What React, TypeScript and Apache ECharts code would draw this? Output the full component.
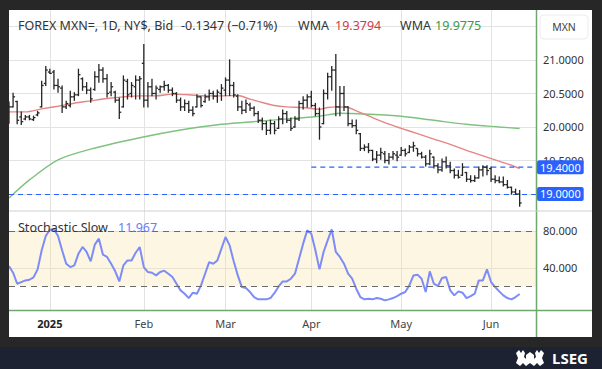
import React, { useEffect, useRef } from 'react';
import * as echarts from 'echarts';

// ---------- categories (weekday calendar) ----------
const START_Y = 2024, START_M = 11, START_D = 18;
const N_CATS = 130;
const categories: string[] = [];
{
  const d = new Date(Date.UTC(START_Y, START_M, START_D));
  while (categories.length < N_CATS) {
    const wd = d.getUTCDay();
    if (wd !== 0 && wd !== 6) categories.push(d.toISOString().slice(0, 10));
    d.setUTCDate(d.getUTCDate() + 1);
  }
}
const monthNames = ['Jan', 'Feb', 'Mar', 'Apr', 'May', 'Jun', 'Jul', 'Aug', 'Sep', 'Oct', 'Nov', 'Dec'];

// ---------- price data (OHLC) ----------
const openP = [
  20.20, 20.30, 20.38, 20.15, 20.12, 20.15, 20.11, 20.18, 20.30, 20.65,
  20.82, 20.82, 20.62, 20.58, 20.30, 20.32, 20.45, 20.48, 20.72, 20.60,
  20.55, 20.56, 20.75, 20.85, 20.72, 20.52, 20.52, 20.40, 20.30, 20.68,
  20.50, 20.60, 20.70, 20.95, 20.40, 20.60, 20.50, 20.56, 20.60, 20.62,
  20.55, 20.50, 20.40, 20.30, 20.35, 20.25, 20.30, 20.45, 20.38, 20.45,
  20.50, 20.46, 20.50, 20.55, 20.70, 20.62, 20.46, 20.30, 20.25, 20.33,
  20.28, 20.20, 20.10, 20.05, 19.95, 20.05, 19.98, 20.12, 20.20, 20.10,
  20.00, 20.12, 20.35, 20.40, 20.45, 20.32, 20.20, 20.05, 20.50, 20.75,
  20.85, 20.30, 20.50, 20.30, 20.05, 20.02, 19.90, 19.68, 19.70, 19.65,
  19.52, 19.58, 19.60, 19.50, 19.55, 19.58, 19.58, 19.65, 19.62, 19.70,
  19.68, 19.60, 19.55, 19.45, 19.55, 19.42, 19.36, 19.48, 19.42, 19.35,
  19.28, 19.28, 19.32, 19.22, 19.20, 19.24, 19.36, 19.40, 19.38, 19.22,
  19.20, 19.18, 19.14, 19.10, 19.03, 19.00,
];
const highP = [
  20.38, 20.51, 20.39, 20.23, 20.18, 20.18, 20.17, 20.24, 20.69, 20.91,
  20.87, 20.85, 20.72, 20.62, 20.39, 20.54, 20.52, 20.87, 20.74, 20.67,
  20.59, 20.83, 20.94, 20.89, 20.79, 20.67, 20.54, 20.44, 20.77, 20.72,
  20.67, 20.77, 20.76, 21.24, 20.67, 20.72, 20.62, 20.62, 20.69, 20.64,
  20.59, 20.52, 20.44, 20.41, 20.39, 20.31, 20.49, 20.46, 20.49, 20.56,
  20.54, 20.56, 20.64, 20.74, 21.01, 20.67, 20.49, 20.39, 20.41, 20.36,
  20.31, 20.24, 20.14, 20.09, 20.11, 20.09, 20.16, 20.26, 20.24, 20.14,
  20.16, 20.39, 20.46, 20.49, 20.54, 20.36, 20.29, 20.56, 20.81, 20.91,
  21.09, 20.61, 20.61, 20.31, 20.11, 20.11, 19.91, 19.74, 19.76, 19.66,
  19.64, 19.69, 19.64, 19.61, 19.64, 19.64, 19.70, 19.68, 19.73, 19.78,
  19.68, 19.63, 19.58, 19.66, 19.56, 19.46, 19.53, 19.56, 19.48, 19.38,
  19.36, 19.46, 19.33, 19.28, 19.28, 19.41, 19.43, 19.43, 19.41, 19.28,
  19.26, 19.26, 19.21, 19.11, 19.08, 19.06,
];
const lowP = [
  20.05, 20.29, 20.04, 20.03, 20.10, 20.10, 20.09, 20.16, 20.29, 20.61,
  20.79, 20.56, 20.51, 20.21, 20.27, 20.29, 20.39, 20.46, 20.54, 20.49,
  20.36, 20.54, 20.66, 20.66, 20.44, 20.46, 20.36, 20.12, 20.29, 20.41,
  20.44, 20.41, 20.41, 20.29, 20.29, 20.46, 20.41, 20.51, 20.54, 20.51,
  20.46, 20.36, 20.24, 20.24, 20.21, 20.16, 20.29, 20.29, 20.36, 20.39,
  20.41, 20.36, 20.39, 20.46, 20.46, 20.44, 20.24, 20.19, 20.21, 20.24,
  20.16, 20.06, 19.95, 19.88, 19.89, 19.89, 19.97, 20.04, 20.06, 19.94,
  19.99, 20.09, 20.26, 20.29, 20.29, 20.16, 19.81, 20.04, 20.41, 20.54,
  20.16, 20.16, 20.24, 20.01, 19.99, 19.89, 19.64, 19.64, 19.61, 19.49,
  19.46, 19.51, 19.46, 19.44, 19.51, 19.49, 19.57, 19.56, 19.61, 19.63,
  19.56, 19.53, 19.41, 19.43, 19.38, 19.31, 19.33, 19.38, 19.31, 19.23,
  19.23, 19.27, 19.18, 19.17, 19.18, 19.23, 19.26, 19.28, 19.18, 19.16,
  19.16, 19.11, 19.08, 18.99, 18.99, 18.81,
];
const closeP = [
  20.30, 20.45, 20.10, 20.08, 20.15, 20.12, 20.14, 20.21, 20.62, 20.85,
  20.80, 20.62, 20.60, 20.30, 20.35, 20.45, 20.48, 20.78, 20.60, 20.55,
  20.42, 20.75, 20.85, 20.72, 20.50, 20.60, 20.40, 20.22, 20.70, 20.48,
  20.62, 20.70, 20.72, 20.40, 20.60, 20.50, 20.58, 20.60, 20.62, 20.55,
  20.50, 20.40, 20.30, 20.35, 20.25, 20.20, 20.45, 20.32, 20.45, 20.50,
  20.46, 20.52, 20.58, 20.70, 20.62, 20.48, 20.30, 20.25, 20.35, 20.28,
  20.20, 20.10, 20.05, 19.95, 20.05, 19.95, 20.12, 20.20, 20.10, 19.98,
  20.12, 20.35, 20.40, 20.45, 20.32, 20.20, 20.00, 20.50, 20.75, 20.85,
  20.30, 20.50, 20.30, 20.05, 20.02, 19.95, 19.68, 19.70, 19.65, 19.52,
  19.58, 19.62, 19.50, 19.55, 19.60, 19.55, 19.65, 19.60, 19.70, 19.72,
  19.60, 19.55, 19.45, 19.60, 19.42, 19.36, 19.48, 19.42, 19.35, 19.28,
  19.25, 19.40, 19.22, 19.20, 19.24, 19.36, 19.40, 19.35, 19.22, 19.20,
  19.18, 19.14, 19.10, 19.03, 19.00, 18.8653,
];

// ---------- moving averages ----------
const wmaRedIdx = [0, 4, 8, 12, 16, 20, 24, 28, 32, 36, 40, 44, 48, 52, 56, 59, 62, 65, 68, 72, 76, 78, 80, 83, 85, 88, 92, 96, 100, 104, 108, 112, 116, 119, 122, 125];
const wmaRedVal = [20.225, 20.225, 20.27, 20.31, 20.355, 20.39, 20.425, 20.45, 20.465, 20.465, 20.49, 20.48, 20.465, 20.465, 20.47, 20.415, 20.365, 20.32, 20.30, 20.29, 20.265, 20.29, 20.30, 20.29, 20.24, 20.165, 20.065, 19.98, 19.90, 19.82, 19.74, 19.65, 19.57, 19.51, 19.45, 19.3794];
const wmaGreenIdx = [0, 5, 12, 20, 32, 42, 52, 62, 70, 76, 81, 88, 96, 104, 112, 120, 125];
const wmaGreenVal = [18.94, 19.21, 19.51, 19.67, 19.84, 19.955, 20.04, 20.09, 20.13, 20.16, 20.205, 20.19, 20.16, 20.10, 20.04, 20.0, 19.9775];

// ---------- stochastic slow %K ----------
const stochK = [
  42, 34.9, 23.0, 24.8, 26.6, 27.3, 29.9, 38.5, 59.1, 74.6,
  81.4, 81.8, 74.6, 59.1, 44.6, 41.0, 42.8, 55.5, 62.7, 57.3,
  47.2, 65.2, 71.7, 54.4, 51.9, 44.6, 36.4, 25.5, 42.8, 48.2,
  48.2, 56.5, 62.7, 41.0, 35.6, 34.9, 32.0, 35.6, 37.1, 33.8,
  30.2, 23.0, 15.8, 12.2, 7.5, 13.3, 12.2, 21.2, 33.8, 46.4,
  44.6, 48.2, 60.9, 73.5, 64.5, 47.2, 32.0, 19.4, 18.3, 14.0,
  8.6, 6.1, 6.1, 6.1, 7.5, 13.0, 20.1, 25.5, 25.5, 28.4,
  33.8, 50.0, 66.3, 80.7, 77.1, 59.1, 38.5, 57.3, 69.9, 81.8,
  57.3, 51.9, 44.6, 33.8, 28.4, 17.6, 8.6, 6.1, 6.8, 6.1,
  7.5, 6.8, 5.0, 6.1, 7.5, 9.7, 12.2, 14.0, 21.2, 32.0,
  32.8, 28.4, 14.0, 36.4, 23.0, 20.5, 29.2, 30.2, 15.8, 10.4,
  14.7, 13.3, 7.5, 9.7, 12.2, 26.6, 26.6, 38.5, 24.8, 19.4,
  14.7, 10.4, 7.5, 6.1, 8.6, 11.967,
];

// ---------- tick values / levels ----------
const priceLabels = [19.5, 20, 20.5, 21];
const priceTicks = [19, 19.5, 20, 20.5, 21, 21.5];
const stochLabels = [40, 80];
const stochLevels = [20, 80];
const alertLevel = 19.4;
const alertStart = '2025-04-01';
const baseLevel = 19.0;

const FONT = '"Noto Sans", sans-serif';
const FRAME = '#272727';
const GRID = '#e3e3e3';
const GREEN_FRAME = '#6ea86e';
const BLUE = '#2962ff';

echarts.graphic.registerShape(
  'logo',
  echarts.graphic.extendPath(
    'M0 3 L3 0 L5 3 L7 0 L9 3 L8 7 L10 9 L10 5 L14 2 L18 5 L18 9 L20 7 L19 3 L21 0 L23 3 L25 0 L28 3 L26 8 L28 13 L24 16 L21 13 L18 16 L14 13 L10 16 L7 13 L4 16 L0 13 L2 8 Z',
    {}
  )
);

const isMonthStart = (i: number) =>
  i > 0 && categories[i].slice(5, 7) !== categories[i - 1].slice(5, 7);

function buildOption() {
  const ohlcData = closeP.map((c, i) => [categories[i], openP[i], highP[i], lowP[i], c]);
  const xAxisBase = (gridIndex: number, showLabel: boolean) => ({
    type: 'category',
    gridIndex,
    data: categories,
    boundaryGap: false,
    axisLine: { show: false },
    axisTick: { show: false },
    splitLine: {
      show: true,
      interval: (i: number) => isMonthStart(i),
      lineStyle: { color: GRID, width: 1 },
    },
    axisLabel: showLabel
      ? {
          show: true,
          interval: (i: number) => isMonthStart(i),
          margin: 8,
          color: '#444',
          fontSize: 11,
          fontFamily: FONT,
          formatter: (v: string) => {
            const m = +v.slice(5, 7);
            return m === 1 ? '{y|' + v.slice(0, 4) + '}' : monthNames[m - 1];
          },
          rich: { y: { fontWeight: 'bold', color: '#222', fontSize: 11, fontFamily: FONT } },
        }
      : { show: false },
  });

  const titleStyle = (text: string, fill: string, size = 12.5, weight = 'normal') => ({
    text,
    fill,
    font: `${weight} ${size}px "Noto Sans", sans-serif`,
    verticalAlign: 'middle',
    textVerticalAlign: 'middle',
  });

  const graphics: any[] = [
    // frame
    { type: 'rect', shape: { x: 0, y: 0, width: 602, height: 10 }, style: { fill: FRAME } },
    { type: 'rect', shape: { x: 0, y: 0, width: 9, height: 369 }, style: { fill: FRAME } },
    { type: 'rect', shape: { x: 592, y: 0, width: 10, height: 369 }, style: { fill: FRAME } },
    { type: 'rect', shape: { x: 0, y: 337, width: 602, height: 10 }, style: { fill: FRAME } },
    { type: 'rect', shape: { x: 0, y: 347, width: 602, height: 22 }, style: { fill: '#1c2231' } },
    // frame lines
    { type: 'line', shape: { x1: 536.5, y1: 10, x2: 536.5, y2: 337 }, style: { stroke: GREEN_FRAME, lineWidth: 1.5 } },
    { type: 'line', shape: { x1: 9, y1: 310.5, x2: 592, y2: 310.5 }, style: { stroke: GREEN_FRAME, lineWidth: 1.5 } },
    { type: 'line', shape: { x1: 9, y1: 211, x2: 592, y2: 211 }, style: { stroke: '#cfcfcf', lineWidth: 1 } },
    // currency box
    { type: 'rect', shape: { x: 540, y: 15, width: 48, height: 24, r: 4 }, style: { fill: '#fff', stroke: '#ececec', lineWidth: 1 } },
    { type: 'text', x: 564, y: 27, style: { ...titleStyle('MXN', '#444', 10.5), align: 'center', textAlign: 'center' } },
    // header
    { type: 'text', x: 18, y: 25, style: titleStyle('FOREX MXN=, 1D, NY$, Bid', '#333') },
    { type: 'text', x: 181, y: 25, style: titleStyle('-0.1347 (−0.71%)', '#333') },
    { type: 'text', x: 298, y: 25, style: titleStyle('WMA', '#333') },
    { type: 'text', x: 335, y: 25, style: titleStyle('19.3794', '#cf3d46') },
    { type: 'text', x: 400, y: 25, style: titleStyle('WMA', '#333') },
    { type: 'text', x: 435, y: 25, style: titleStyle('19.9775', '#3b9947') },
    // stochastic header
    { type: 'text', x: 18, y: 227, style: titleStyle('Stochastic Slow', '#333') },
    { type: 'text', x: 118, y: 227, style: titleStyle('11.967', '#6b7cf2') },
    // brand
    { type: 'logo', x: 516, y: 350, scaleX: 1, scaleY: 1, style: { fill: '#ffffff' } },
    { type: 'text', x: 552, y: 358, style: titleStyle('LSEG', '#ffffff', 15, 'bold') },
  ].map((g) => ({ ...g, z: 100, silent: true }));

  const levelLine = { color: BLUE, type: [5, 4], width: 1.2 };
  const levelLabel = (txt: string) => ({
    show: true,
    position: 'end',
    distance: 1,
    color: '#fff',
    backgroundColor: BLUE,
    padding: [2, 3, 1, 3],
    borderRadius: 2,
    fontSize: 11,
    fontFamily: FONT,
    formatter: txt,
  });

  return {
    animation: false,
    backgroundColor: '#ffffff',
    textStyle: { fontFamily: FONT },
    grid: [
      { left: 9, right: 66, top: 10, height: 201 },
      { left: 9, right: 66, top: 211, height: 99 },
    ],
    xAxis: [xAxisBase(0, false), xAxisBase(1, true)],
    yAxis: [
      {
        type: 'value',
        gridIndex: 0,
        position: 'right',
        min: 18.746,
        max: 21.746,
        axisLine: { show: false },
        axisTick: { show: false, customValues: priceTicks },
        splitLine: { show: true, lineStyle: { color: GRID, width: 1 } },
        axisLabel: {
          customValues: priceLabels,
          formatter: (v: number) => v.toFixed(4),
          margin: 7,
          color: '#333',
          fontSize: 11,
          fontFamily: FONT,
        },
      },
      {
        type: 'value',
        gridIndex: 1,
        position: 'right',
        min: -5.4,
        max: 101.6,
        axisLine: { show: false },
        axisTick: { show: false, customValues: stochLabels },
        splitLine: { show: true, lineStyle: { color: GRID, width: 1 } },
        axisLabel: {
          customValues: stochLabels,
          formatter: (v: number) => v.toFixed(3),
          margin: 7,
          color: '#333',
          fontSize: 11,
          fontFamily: FONT,
        },
      },
    ],
    series: [
      {
        type: 'line',
        xAxisIndex: 0,
        yAxisIndex: 0,
        data: wmaGreenIdx.map((i, k) => [categories[i], wmaGreenVal[k]]),
        showSymbol: false,
        smooth: 0.3,
        lineStyle: { color: '#7fc27f', width: 1.4 },
        z: 3,
      },
      {
        type: 'line',
        xAxisIndex: 0,
        yAxisIndex: 0,
        data: wmaRedIdx.map((i, k) => [categories[i], wmaRedVal[k]]),
        showSymbol: false,
        smooth: 0.3,
        lineStyle: { color: '#e58585', width: 1.4 },
        z: 3,
        markLine: {
          silent: true,
          symbol: 'none',
          lineStyle: levelLine,
          data: [{ yAxis: baseLevel, lineStyle: levelLine, label: levelLabel(baseLevel.toFixed(4)) }],
        },
      },
      {
        // alert level line (from Apr 1 to the right edge)
        type: 'line',
        xAxisIndex: 0,
        yAxisIndex: 0,
        data: [
          [alertStart, alertLevel],
          [categories[categories.length - 1], alertLevel],
        ],
        showSymbol: false,
        silent: true,
        color: BLUE,
        lineStyle: { color: BLUE, type: [5, 4], width: 1.2 },
        z: 3,
        endLabel: {
          show: true,
          distance: 1,
          color: '#fff',
          backgroundColor: BLUE,
          padding: [2, 3, 1, 3],
          borderRadius: 2,
          fontSize: 11,
          fontFamily: FONT,
          formatter: () => alertLevel.toFixed(4),
        },
      },
      {
        type: 'custom',
        xAxisIndex: 0,
        yAxisIndex: 0,
        clip: true,
        z: 5,
        data: ohlcData,
        encode: { x: 0, y: [1, 2, 3, 4] },
        renderItem: (params: any, api: any) => {
          const x = api.value(0);
          const o = api.coord([x, api.value(1)]);
          const h = api.coord([x, api.value(2)]);
          const l = api.coord([x, api.value(3)]);
          const c = api.coord([x, api.value(4)]);
          const st = { stroke: '#262626', lineWidth: 1.3 };
          const w = 2;
          return {
            type: 'group',
            children: [
              { type: 'line', shape: { x1: h[0], y1: h[1], x2: l[0], y2: l[1] }, style: st },
              { type: 'line', shape: { x1: o[0] - w, y1: o[1], x2: o[0], y2: o[1] }, style: st },
              { type: 'line', shape: { x1: c[0], y1: c[1], x2: c[0] + w, y2: c[1] }, style: st },
            ],
          };
        },
      },
      {
        type: 'line',
        xAxisIndex: 1,
        yAxisIndex: 1,
        data: stochK.map((v, i) => [categories[i], v]),
        showSymbol: false,
        lineStyle: { color: '#7d8cf7', width: 2 },
        z: 4,
        markArea: {
          silent: true,
          itemStyle: { color: 'rgba(248,225,160,0.3)' },
          data: [[{ yAxis: stochLevels[0] }, { yAxis: stochLevels[1] }]],
        },
        markLine: {
          silent: true,
          symbol: 'none',
          label: { show: false },
          lineStyle: { color: '#6a6a6a', type: [6, 5], width: 1 },
          data: stochLevels.map((v) => ({ yAxis: v })),
        },
      },
    ],
    graphic: graphics,
  };
}

export default function App() {
  const ref = useRef<HTMLDivElement>(null);
  useEffect(() => {
    if (!ref.current) return;
    const chart = echarts.init(ref.current, undefined, { renderer: 'svg', width: 602, height: 369 });
    chart.setOption(buildOption() as any);
    return () => chart.dispose();
  }, []);
  return (
    <div
      ref={ref}
      style={{ position: 'fixed', left: 0, top: 0, width: 602, height: 369 }}
    />
  );
}
